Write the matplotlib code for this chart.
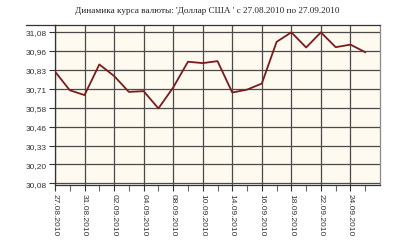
import matplotlib
matplotlib.use("Agg")
import matplotlib.pyplot as plt
from matplotlib.lines import Line2D

title = "Динамика курса валюты: 'Доллар США ' с 27.08.2010 по 27.09.2010"
dates = ["27.08.2010", "28.08.2010", "31.08.2010", "01.09.2010", "02.09.2010",
         "03.09.2010", "04.09.2010", "07.09.2010", "08.09.2010", "09.09.2010",
         "10.09.2010", "11.09.2010", "14.09.2010", "15.09.2010", "16.09.2010",
         "17.09.2010", "18.09.2010", "21.09.2010", "22.09.2010", "23.09.2010",
         "24.09.2010", "25.09.2010"]
rates = [30.818, 30.695, 30.663, 30.865, 30.789, 30.684, 30.689, 30.575,
         30.713, 30.883, 30.874, 30.887, 30.680, 30.699, 30.739, 31.014,
         31.077, 30.977, 31.077, 30.979, 30.996, 30.946]
y_ticks = [30.08, 30.205, 30.33, 30.455, 30.58, 30.705, 30.83, 30.955, 31.08]
y_labels = ["30,08", "30,20", "30,33", "30,46", "30,58", "30,71", "30,83", "30,96", "31,08"]

serif = ["Liberation Serif", "DejaVu Serif"]
sans = ["Liberation Sans", "DejaVu Sans"]
fig = plt.figure(figsize=(4, 2.53), dpi=100)
fig.patch.set_facecolor("white")
ax = fig.add_axes([0.1375, 0.265, 0.8125, 0.632])
ax.set_facecolor("#fefaef")

x = list(range(len(rates)))
ax.plot(x, rates, color="#7a1c1c", lw=1.3, zorder=3)

ax.set_xlim(0, len(rates))
ax.set_ylim(30.07, 31.125)

major = x[::2]
ax.set_xticks(major)
ax.set_xticklabels([dates[i] for i in major], rotation=270, family=sans,
                   fontsize=6.0, color="#333333", va="top", ha="center")
ax.set_xticks([i for i in range(1, len(rates) + 1, 2)], minor=True)
ax.set_yticks(y_ticks)
ax.set_yticklabels(y_labels, family=sans, fontsize=6.0, color="#333333")

ax.tick_params(axis="x", which="major", length=4, width=0.8, color="#333333", pad=2)
ax.tick_params(axis="x", which="minor", length=4, width=0.8, color="#666666")
ax.tick_params(axis="y", which="major", length=4, width=0.8, color="#333333", pad=2)

for xv in major:
    ax.axvline(xv, color="#4a4a4a", lw=0.9, zorder=1)
for yv in y_ticks:
    ax.axhline(yv, color="#4a4a4a", lw=0.9, zorder=1)

for s in ["left", "bottom", "top"]:
    ax.spines[s].set_color("#333333")
    ax.spines[s].set_linewidth(0.9)
ax.spines["right"].set_color("#8a8a8a")
ax.spines["right"].set_linewidth(0.9)

# top frame line extending to the left
ytop = 0.265 + 0.632
fig.add_artist(Line2D([26 / 400, 0.1375], [ytop, ytop], color="#333333", lw=0.9,
                      transform=fig.transFigure))

fig.text(207 / 400, 1 - 11 / 253, title, ha="center", va="center",
         family=serif, fontsize=6.6, color="#222222")

fig.savefig("out.png", dpi=100, facecolor="white")
